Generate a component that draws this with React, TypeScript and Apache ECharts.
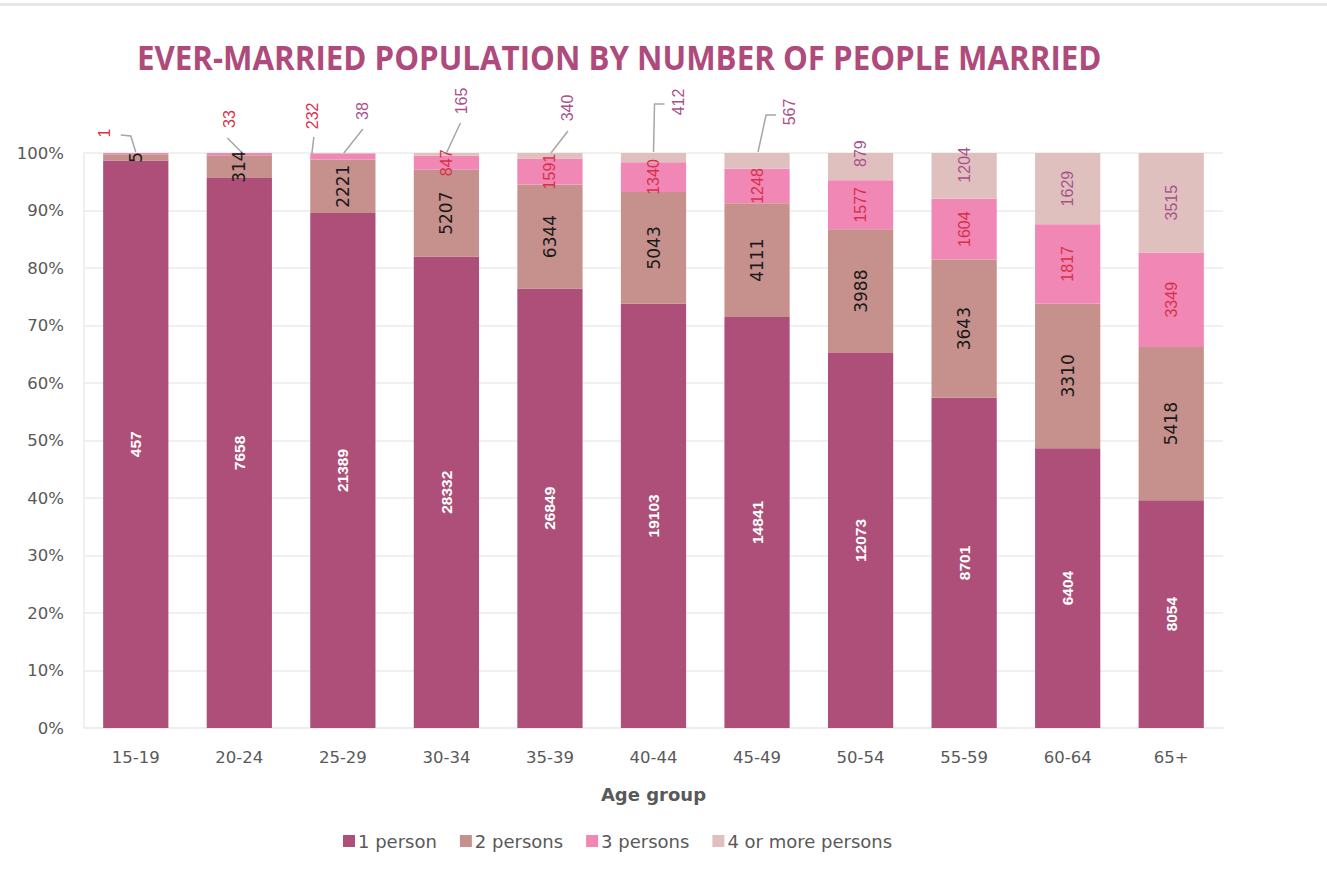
import { useEffect, useRef } from 'react';
import * as echarts from 'echarts';

const title = 'EVER-MARRIED POPULATION BY NUMBER OF PEOPLE MARRIED';
const categories = ['15-19', '20-24', '25-29', '30-34', '35-39', '40-44', '45-49', '50-54', '55-59', '60-64', '65+'];
const seriesNames = ['1 person', '2 persons', '3 persons', '4 or more persons'];
const onePerson = [457, 7658, 21389, 28332, 26849, 19103, 14841, 12073, 8701, 6404, 8054];
const twoPersons = [5, 314, 2221, 5207, 6344, 5043, 4111, 3988, 3643, 3310, 5418];
const threePersons = [1, 33, 232, 847, 1591, 1340, 1248, 1577, 1604, 1817, 3349];
const fourPlus = [0, 0, 38, 165, 340, 412, 567, 879, 1204, 1629, 3515];
const yMin = 0;
const yMax = 100;
const yStep = 10;

const colors = ['#ad4f79', '#c6918c', '#f087b4', '#dfc0bf'];
const labelColors = ['#ffffff', '#1a1a1a', '#d9304a', '#a9528a'];

// label displacements (style only), relative to bar centre / segment top:
// label centre [dx, dy] and leader-line points
type Move = { at: [number, number]; line: [number, number][] };
const moved: Record<number, Record<number, Move>> = {
  2: {
    0: { at: [-31, -20], line: [[-15, -18], [-5, -17], [0, -1]] },
    1: { at: [-10, -34], line: [[-12, -15], [2, -1]] },
    2: { at: [-30, -38], line: [[-29, -17], [-31, 0]] },
  },
  3: {
    2: { at: [20, -42], line: [[20, -24], [1, 0]] },
    3: { at: [15, -52], line: [[14, -30], [0, 0]] },
    4: { at: [18, -45], line: [[18, -22], [1, 0]] },
    5: { at: [25, -51], line: [[11, -49], [1, -49], [0, -1]] },
    6: { at: [32, -41], line: [[19, -38], [9, -38], [1, -1]] },
  },
};
const nudged: Record<number, Record<number, number>> = {
  3: { 7: -13, 8: -11 },
};

export default function App() {
  const ref = useRef<HTMLDivElement>(null);
  useEffect(() => {
    if (!ref.current) return;
    const chart = echarts.init(ref.current, null, { renderer: 'svg' });
    const raw = [onePerson, twoPersons, threePersons, fourPlus];
    const totals = categories.map((_, i) => raw.reduce((s, arr) => s + arr[i], 0));
    const pct = raw.map((arr) => arr.map((v, i) => (v / totals[i]) * 100));
    const labelFonts = [
      { fontSize: 15.5, fontWeight: 'bold', fontFamily: 'Liberation Sans' },
      { fontSize: 17, fontWeight: 'normal', fontFamily: 'DejaVu Sans' },
      { fontSize: 16, fontWeight: 'normal', fontFamily: 'Liberation Sans' },
      { fontSize: 16, fontWeight: 'normal', fontFamily: 'Liberation Sans' },
    ];
    const series = raw.map((arr, si) => ({
      name: seriesNames[si],
      type: 'bar',
      stack: 'total',
      barWidth: '63%',
      itemStyle: { color: colors[si] },
      label: {
        show: true,
        position: 'inside',
        rotate: 90,
        color: labelColors[si],
        ...labelFonts[si],
        formatter: (p: any) => (arr[p.dataIndex] ? String(arr[p.dataIndex]) : ''),
      },
      labelLayout: (p: any) => {
        const cx = p.rect.x + p.rect.width / 2;
        const top = p.rect.y;
        const m = moved[si]?.[p.dataIndex];
        if (m) {
          return { x: cx + m.at[0], y: top + m.at[1], align: 'center', verticalAlign: 'middle' };
        }
        const n = nudged[si]?.[p.dataIndex];
        if (n !== undefined) {
          return { x: cx, y: p.rect.y + p.rect.height / 2 + n, align: 'center', verticalAlign: 'middle' };
        }
        return {};
      },
      data: pct[si],
    }));

    const baseGraphic: any[] = [
      { type: 'rect', left: 0, top: 3, shape: { width: 1327, height: 3 }, style: { fill: '#e6e6e6' } },
      {
        type: 'text',
        x: 137,
        y: 57,
        scaleX: 0.92,
        style: { text: title, fill: '#ae4a7c', font: 'bold 34px "Open Sans"', verticalAlign: 'middle' },
      },
    ];

    chart.setOption({
      animation: false,
      backgroundColor: '#ffffff',
      graphic: baseGraphic,
      legend: {
        left: 343,
        top: 832,
        padding: 0,
        icon: 'rect',
        itemWidth: 12,
        itemHeight: 12,
        itemGap: 23,
        textStyle: { color: '#595959', fontSize: 18, fontFamily: 'DejaVu Sans', padding: [0, 0, 0, -2] },
        data: seriesNames,
      },
      grid: { left: 84, right: 104, top: 153, bottom: 154 },
      xAxis: {
        type: 'category',
        data: categories,
        axisTick: { show: false },
        axisLine: { lineStyle: { color: '#ebebeb', width: 1.5 } },
        axisLabel: { color: '#595959', fontSize: 16.5, fontFamily: 'DejaVu Sans', margin: 21 },
        name: 'Age group',
        nameLocation: 'middle',
        nameGap: 57,
        nameTextStyle: { color: '#595959', fontSize: 18, fontWeight: 'bold', fontFamily: 'DejaVu Sans' },
      },
      yAxis: {
        type: 'value',
        min: yMin,
        max: yMax,
        interval: yStep,
        axisLine: { show: true, lineStyle: { color: '#ebebeb', width: 1.5 } },
        axisTick: { show: false },
        splitLine: { lineStyle: { color: '#ebebeb', width: 1.5 } },
        axisLabel: { color: '#595959', fontSize: 16.5, fontFamily: 'DejaVu Sans', margin: 20, formatter: '{value}%' },
      },
      series,
    });

    // leader lines: anchored on bar positions from the library's scales
    const lines: any[] = [];
    Object.keys(moved).forEach((sk) => {
      const si = Number(sk);
      Object.keys(moved[si]).forEach((dk) => {
        const i = Number(dk);
        let cum = 0;
        for (let k = 0; k <= si; k++) cum += pct[k][i];
        const cx = chart.convertToPixel({ xAxisIndex: 0 }, i) as number;
        const top = chart.convertToPixel({ yAxisIndex: 0 }, cum) as number;
        lines.push({
          type: 'polyline',
          z: 10,
          shape: { points: moved[si][i].line.map(([dx, dy]) => [cx + dx, top + dy]) },
          style: { stroke: '#a6a6a6', lineWidth: 1.5, fill: 'none' },
        });
      });
    });
    chart.setOption({ graphic: [...baseGraphic, ...lines] });

    return () => chart.dispose();
  }, []);
  return (
    <div
      ref={ref}
      style={{ position: 'fixed', left: 0, top: 0, width: 1327, height: 882, background: '#fff' }}
    />
  );
}
